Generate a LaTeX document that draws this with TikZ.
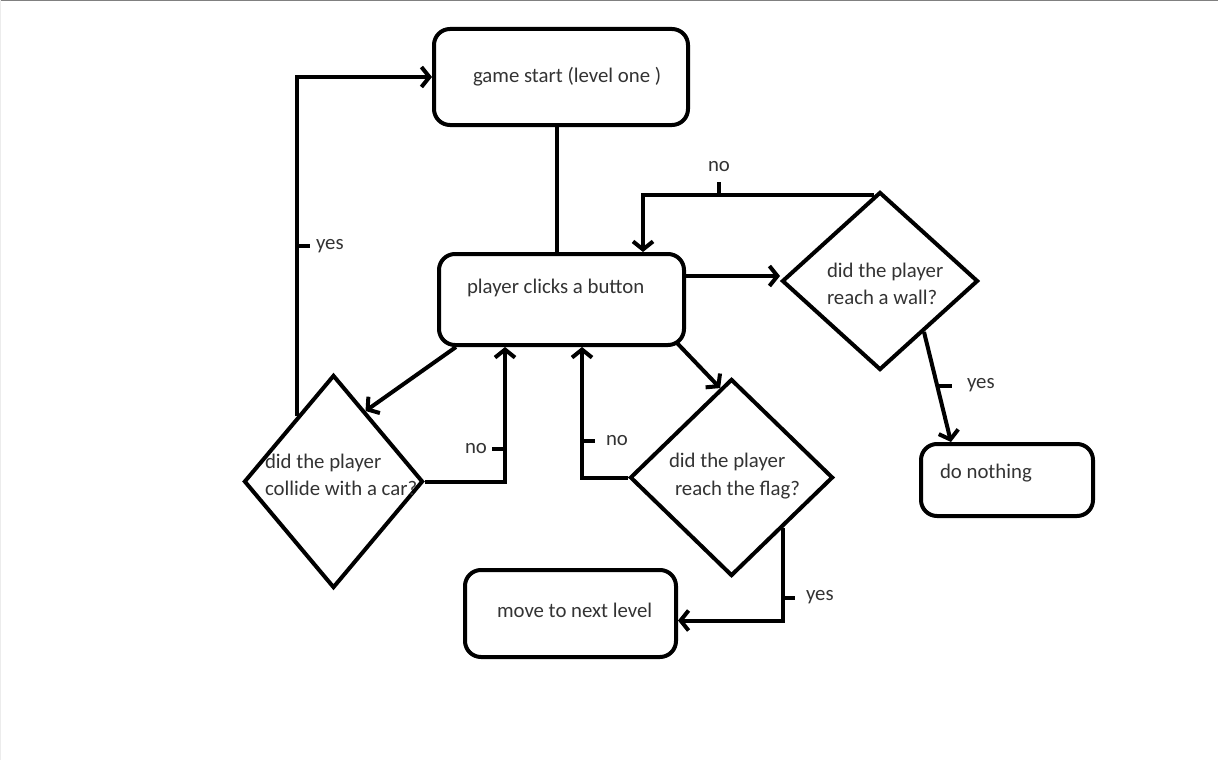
\documentclass[tikz,border=0pt]{standalone}
\usepackage{fontspec}
\setmainfont{Carlito}
\usetikzlibrary{shapes.geometric,arrows.meta,calc}
\begin{document}
\begin{tikzpicture}[x=1pt,y=-1pt,
  line width=4pt,
  box/.style={draw,rounded corners=16pt,inner sep=0pt},
  dia/.style={draw,diamond,inner sep=0pt,line join=miter},
  txt/.style={text=black!80,inner sep=0pt,anchor=west,
    font=\fontsize{20.8}{27.5}\selectfont,align=left},
  arr/.style={-{Straight Barb[length=8pt,width=20pt]}}]
\useasboundingbox (0,0) rectangle (1218,760);
\fill[white] (0,0) rectangle (1218,760);
\draw[line width=1.5pt,gray] (0,0.75) -- (1218,0.75);
\draw[line width=1pt,gray!15] (0.5,0) -- (0.5,760);

% process boxes
\node[box,minimum width=254pt,minimum height=96pt] (gs) at (561,77) {};
\node[box,minimum width=245pt,minimum height=91pt] (pcb) at (561.5,299.5) {};
\node[box,minimum width=211pt,minimum height=87pt] (mv) at (570.5,613.5) {};
\node[box,minimum width=172pt,minimum height=72pt] (dn) at (1007,480) {};

% decisions
\node[dia,minimum width=196pt,minimum height=178pt] (wall) at (880,281) {};
\node[dia,minimum width=179pt,minimum height=213pt] (col) at (333.5,481.5) {};
\node[dia,minimum width=203pt,minimum height=197pt] (fl) at (731.5,477.5) {};

% texts
\node[txt] (gs-t) at (471,77) {game start (level one )};
\node[txt] (pcb-t) at (465,288) {player clicks a button};
\node[txt] (mv-t) at (495,610) {move to next level};
\node[txt] (dn-t) at (938,473) {do nothing};
\node[txt] (wall-t) at (825,284) {did the player\\reach a wall?};
\node[txt] (col-t) at (263,475) {did the player\\collide with a car?};
\node[txt] (fl-t) at (667,476) {did the player\\\hspace*{6pt}reach the flag?};

% connector points
\coordinate (gsB) at ($(gs.south)+(-4,0)$);
\coordinate (colTL) at ($(col.north)!0.4!(col.west)$);
\coordinate (colIn) at ($(col.north)!0.35!(col.east)$);
\coordinate (pcbSW) at ($(pcb.south west)+(19,0)$);
\coordinate (pcbNo1) at ($(pcb.south west)+(68,0)$);
\coordinate (pcbNo2) at ($(pcb.south west)+(145,0)$);
\coordinate (pcbSE) at ($(pcb.south east)+(-9,-4)$);
\coordinate (flIn) at ($(fl.north)!0.11!(fl.west)$);
\coordinate (pcbE) at ($(pcb.north east)+(0,24)$);
\coordinate (wallTop) at ($(wall.north)!0.06!(wall.west)$);
\coordinate (pcbTop) at ($(pcb.north west)+(206,0)$);
\coordinate (wallYes) at ($(wall.south)!0.44!(wall.east)$);
\coordinate (dnTop) at ($(dn.north west)+(32,0)$);
\coordinate (mvIn) at ($(mv.east)+(0,7)$);

% connectors
\draw (gsB) -- (gsB |- pcb.north);
\draw[arr] (colTL) |- (gs.west);
\draw[arr] (pcbSW) -- (colIn);
\draw[arr] (col.east) -| (pcbNo1);
\draw[arr] (fl.west) -| (pcbNo2);
\draw[arr] (pcbSE) -- (flIn);
\draw[arr] (pcbE) -- (pcbE -| wall.west);
\draw[arr] (wallTop) -| (pcbTop);
\draw[arr] (wallYes) -- (dnTop);
\draw[arr] (fl.south east) |- (mvIn);

% branch labels
\draw (297,246) -- (310,246);
\node[txt] (l-yes1) at (314,246) {yes};
\draw (492,449) -- (505,449);
\node[txt] (l-no1) at (463,449) {no};
\draw (582,441) -- (595,441);
\node[txt] (l-no2) at (604,441) {no};
\draw (719,182) -- (719,196);
\node[txt,anchor=center] (l-no3) at (719,167) {no};
\draw (937,386) -- (952,386);
\node[txt] (l-yes2) at (965,385) {yes};
\draw (783,598) -- (795,598);
\node[txt] (l-yes3) at (804,597) {yes};
\end{tikzpicture}
\end{document}
